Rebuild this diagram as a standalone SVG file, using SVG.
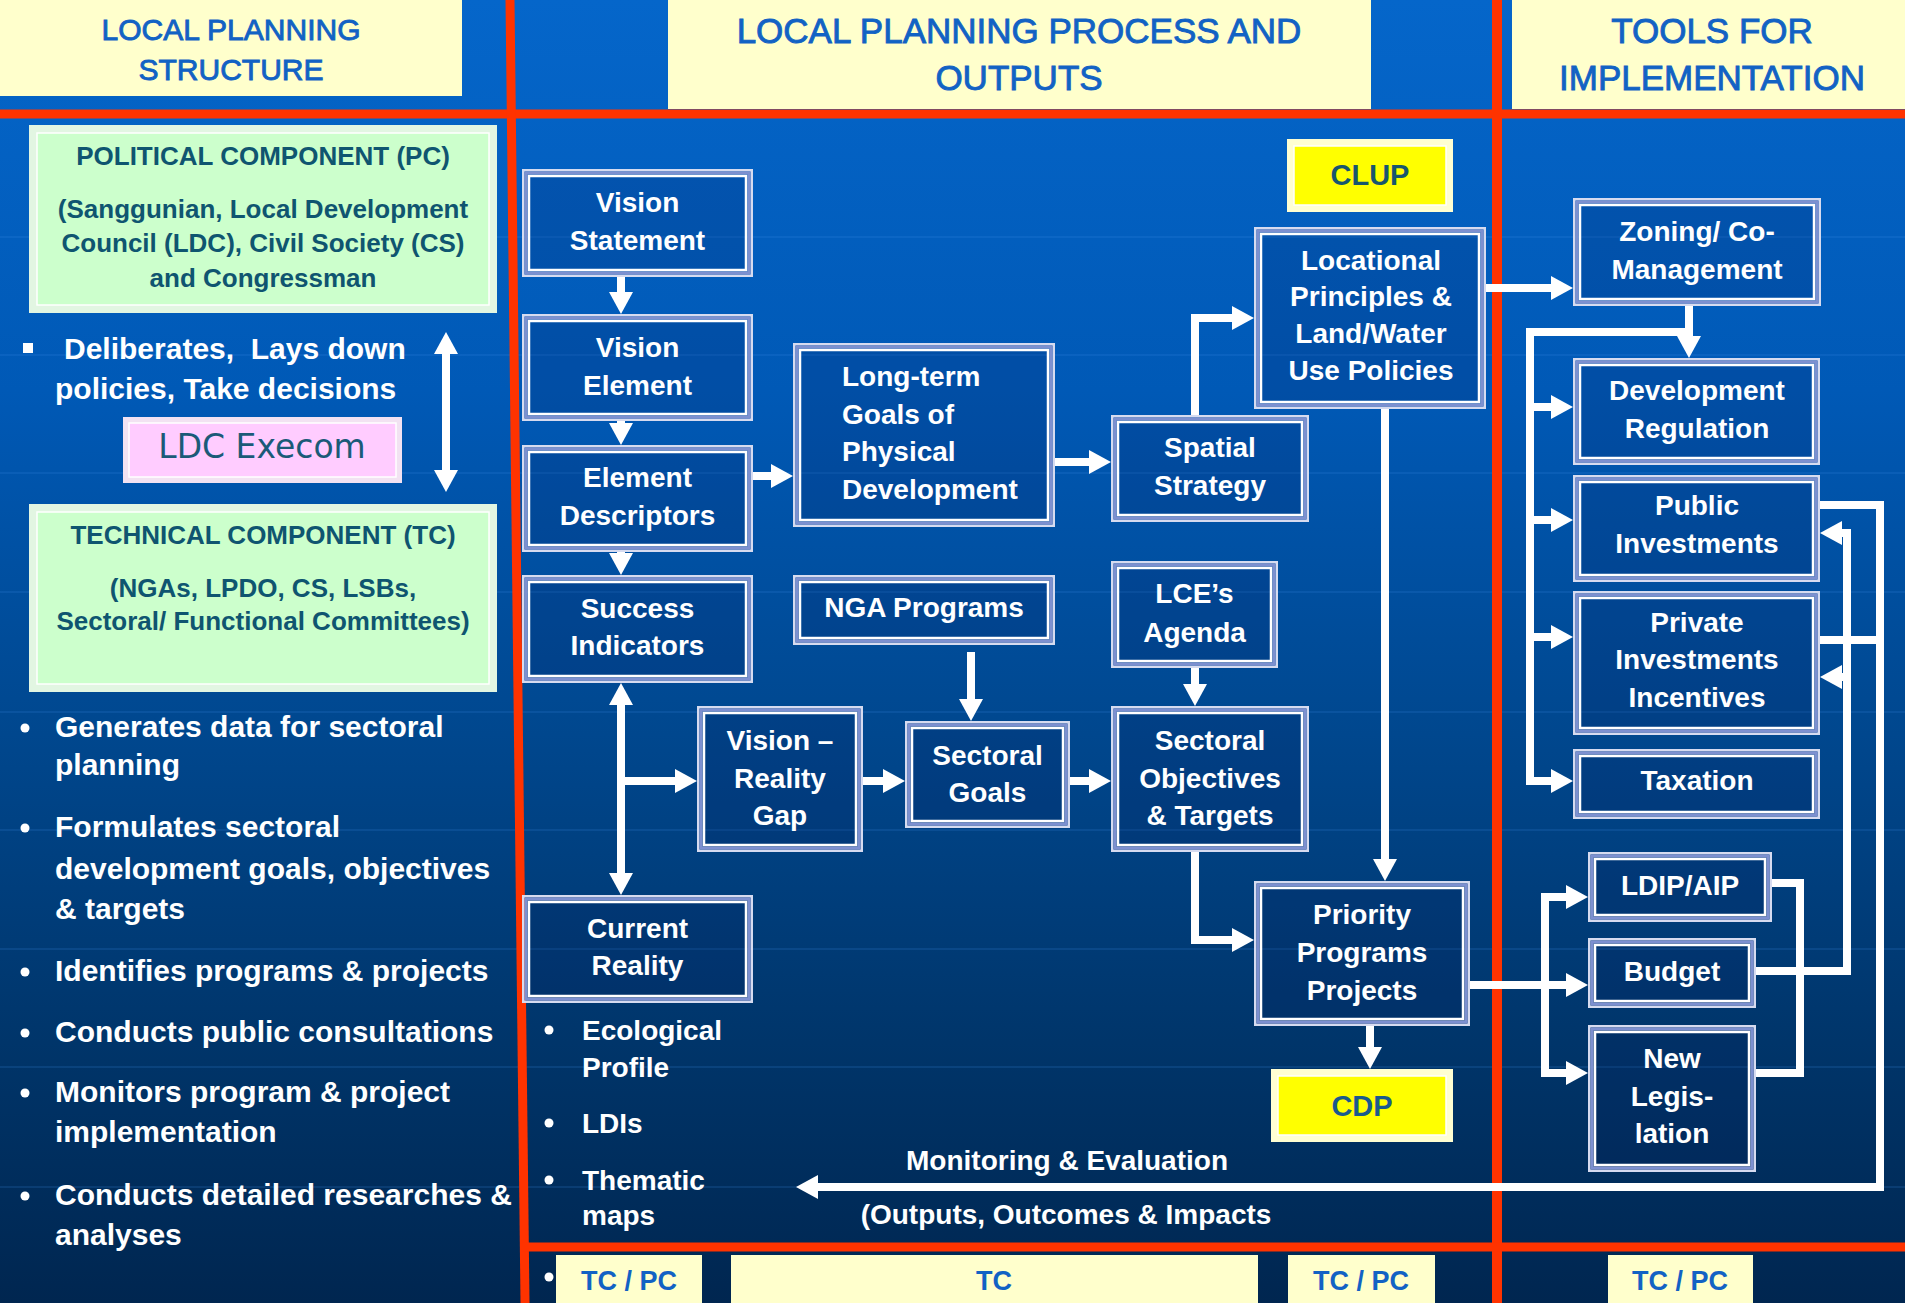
<svg xmlns="http://www.w3.org/2000/svg" width="1905" height="1303" viewBox="0 0 1905 1303">
  <defs>
    <linearGradient id="bg" x1="0" y1="0" x2="0" y2="1">
      <stop offset="0" stop-color="#0566CA"/>
      <stop offset="0.3" stop-color="#0059B6"/>
      <stop offset="0.55" stop-color="#004890"/>
      <stop offset="0.8" stop-color="#00356A"/>
      <stop offset="1" stop-color="#002650"/>
    </linearGradient>
    <marker id="ah" viewBox="0 0 22 24" refX="2" refY="12" markerWidth="22" markerHeight="24" markerUnits="userSpaceOnUse" orient="auto-start-reverse">
      <path d="M0,0 L22,12 L0,24 Z" fill="#FFFFFF"/>
    </marker>
    <style>
      .o { fill: rgba(5,30,90,0.18); stroke: #D6DBF0; stroke-width: 2.5; }
      .m { fill: none; stroke: #7D90D0; stroke-width: 3; }
      .i { fill: none; stroke: #FFFFFF; stroke-width: 2.5; }
      .t { font-family: 'Liberation Sans', Arial, sans-serif; font-weight: bold; font-size: 28px; fill: #FFFFFF; text-anchor: middle; }
      .tl { font-family: 'Liberation Sans', Arial, sans-serif; font-weight: bold; font-size: 28px; fill: #FFFFFF; }
      .hd { font-family: 'Liberation Sans', Arial, sans-serif; font-size: 35px; fill: #1262C4; stroke: #1262C4; stroke-width: 0.9; text-anchor: middle; }
      .ft { font-family: 'Liberation Sans', Arial, sans-serif; font-weight: bold; font-size: 27px; fill: #1262C4; text-anchor: middle; }
      .gt { font-family: 'Liberation Sans', Arial, sans-serif; font-weight: bold; font-size: 26px; fill: #0F5570; text-anchor: middle; }
      .bl { font-family: 'Liberation Sans', Arial, sans-serif; font-weight: bold; font-size: 30px; fill: #FFFFFF; white-space: pre; }
      .yt { font-family: 'Liberation Sans', Arial, sans-serif; font-weight: bold; font-size: 29px; fill: #17566E; text-anchor: middle; }
      .pale { fill: #FFFFCC; }
      .red { stroke: #FF3300; fill: none; }
      .grid { stroke: #3F8FE8; stroke-width: 1.5; opacity: 0.22; }
      .cn { fill: none; stroke: #FFFFFF; stroke-width: 8; stroke-linejoin: miter; }
      .ar { marker-end: url(#ah); }
      .ar2 { marker-start: url(#ah); marker-end: url(#ah); }
      .green { fill: #CCFFCC; stroke: #E2F6E2; stroke-width: 8; }
      .gin { fill: none; stroke: #FFFFFF; stroke-width: 1.5; }
    </style>
  </defs>

  <!-- backdrop -->
  <rect x="0" y="0" width="1905" height="1303" fill="url(#bg)"/>
  <g id="grid">
    <line class="grid" x1="0" y1="237" x2="1905" y2="237"/>
    <line class="grid" x1="0" y1="355" x2="1905" y2="355"/>
    <line class="grid" x1="0" y1="473" x2="1905" y2="473"/>
    <line class="grid" x1="0" y1="592" x2="1905" y2="592"/>
    <line class="grid" x1="0" y1="712" x2="1905" y2="712"/>
    <line class="grid" x1="0" y1="830" x2="1905" y2="830"/>
    <line class="grid" x1="0" y1="949" x2="1905" y2="949"/>
    <line class="grid" x1="0" y1="1067" x2="1905" y2="1067"/>
    <line class="grid" x1="0" y1="1187" x2="1905" y2="1187"/>
  </g>

  <!-- column headers -->
  <g id="header-structure">
    <rect class="pale" x="0" y="0" width="462" height="96"/>
    <text class="hd" style="font-size:30px" x="231" y="40">LOCAL PLANNING</text>
    <text class="hd" style="font-size:30px" x="231" y="80">STRUCTURE</text>
  </g>
  <g id="header-process">
    <rect class="pale" x="668" y="0" width="703" height="109"/>
    <text class="hd" x="1019" y="43">LOCAL PLANNING PROCESS AND</text>
    <text class="hd" x="1019" y="90">OUTPUTS</text>
  </g>
  <g id="header-tools">
    <rect class="pale" x="1512" y="0" width="393" height="109"/>
    <text class="hd" x="1712" y="43">TOOLS FOR</text>
    <text class="hd" x="1712" y="90">IMPLEMENTATION</text>
  </g>

  <!-- footer role labels -->
  <g id="footer">
    <rect class="pale" x="556" y="1255" width="146" height="48"/>
    <text class="ft" x="629" y="1290">TC / PC</text>
    <rect class="pale" x="731" y="1255" width="527" height="48"/>
    <text class="ft" x="994" y="1290">TC</text>
    <rect class="pale" x="1288" y="1255" width="147" height="48"/>
    <text class="ft" x="1361" y="1290">TC / PC</text>
    <rect class="pale" x="1608" y="1255" width="145" height="48"/>
    <text class="ft" x="1680" y="1290">TC / PC</text>
  </g>

  <!-- red column dividers -->
  <g id="dividers">
    <line class="red" x1="0" y1="114" x2="1905" y2="114" stroke-width="9"/>
    <line class="red" x1="510" y1="0" x2="525" y2="1303" stroke-width="9"/>
    <line class="red" x1="1497" y1="0" x2="1497" y2="1303" stroke-width="10"/>
    <line class="red" x1="522" y1="1247" x2="1905" y2="1247" stroke-width="9"/>
  </g>

  <!-- planning structure column -->
  <g id="political-component">
    <rect class="green" x="33" y="129" width="460" height="180"/>
    <rect class="gin" x="37" y="133" width="452" height="172"/>
    <text class="gt" x="263" y="165">POLITICAL COMPONENT (PC)</text>
    <text class="gt" x="263" y="218">(Sanggunian, Local Development</text>
    <text class="gt" x="263" y="252">Council (LDC), Civil Society (CS)</text>
    <text class="gt" x="263" y="287">and Congressman</text>
  </g>
  <g id="pc-role">
    <rect x="23" y="343" width="10" height="10" fill="#FFFFFF"/>
    <text class="bl" x="64" y="359">Deliberates,  Lays down</text>
    <text class="bl" x="55" y="399">policies, Take decisions</text>
  </g>
  <g id="ldc-execom">
    <rect x="126" y="420" width="273" height="60" fill="#FFCCFF" stroke="#F2E2F2" stroke-width="6"/>
    <rect x="129" y="423" width="267" height="54" fill="none" stroke="#FFFFFF" stroke-width="1.5"/>
    <text x="262" y="458" text-anchor="middle" font-family="'DejaVu Sans', Verdana, sans-serif" font-size="33" fill="#1B5A78">LDC Execom</text>
  </g>
  <g id="technical-component">
    <rect class="green" x="33" y="508" width="460" height="180"/>
    <rect class="gin" x="37" y="512" width="452" height="172"/>
    <text class="gt" x="263" y="544">TECHNICAL COMPONENT (TC)</text>
    <text class="gt" x="263" y="597">(NGAs, LPDO, CS, LSBs,</text>
    <text class="gt" x="263" y="630">Sectoral/ Functional Committees)</text>
  </g>
  <g id="tc-roles">
    <circle cx="25" cy="728" r="4.5" fill="#FFFFFF"/>
    <text class="bl" x="55" y="737">Generates data for sectoral</text>
    <text class="bl" x="55" y="775">planning</text>
    <circle cx="25" cy="828" r="4.5" fill="#FFFFFF"/>
    <text class="bl" x="55" y="837">Formulates sectoral</text>
    <text class="bl" x="55" y="879">development goals, objectives</text>
    <text class="bl" x="55" y="919">&amp; targets</text>
    <circle cx="25" cy="972" r="4.5" fill="#FFFFFF"/>
    <text class="bl" x="55" y="981">Identifies programs &amp; projects</text>
    <circle cx="25" cy="1033" r="4.5" fill="#FFFFFF"/>
    <text class="bl" x="55" y="1042">Conducts public consultations</text>
    <circle cx="25" cy="1093" r="4.5" fill="#FFFFFF"/>
    <text class="bl" x="55" y="1102">Monitors program &amp; project</text>
    <text class="bl" x="55" y="1142">implementation</text>
    <circle cx="25" cy="1196" r="4.5" fill="#FFFFFF"/>
    <text class="bl" x="55" y="1205">Conducts detailed researches &amp;</text>
    <text class="bl" x="55" y="1245">analyses</text>
  </g>

  <!-- connectors -->
  <g id="connectors">
    <path class="cn ar2" d="M446,352 V472" stroke-width="5"/>
    <path class="cn ar" d="M621,277 V294"/>
    <path class="cn ar" d="M621,421 V425"/>
    <path class="cn ar" d="M621,552 V555"/>
    <path class="cn ar" d="M753,476 H773"/>
    <path class="cn ar" d="M1055,462 H1091"/>
    <path class="cn ar" d="M1195,415 V318 H1234"/>
    <path class="cn ar" d="M1385,409 V861" stroke-width="5"/>
    <path class="cn ar" d="M971,652 V701"/>
    <path class="cn ar" d="M1195,668 V686"/>
    <path class="cn ar2" d="M621,703 V875"/>
    <path class="cn ar" d="M621,781 H677"/>
    <path class="cn ar" d="M863,781 H885"/>
    <path class="cn ar" d="M1070,781 H1091"/>
    <path class="cn ar" d="M1195,851 V940 H1234"/>
    <path class="cn ar" d="M1370,1026 V1049"/>
    <path class="cn ar" d="M1486,288 H1553"/>
    <path class="cn ar" d="M1689,306 V338"/>
    <path class="cn ar" d="M1689,332 H1530 V781 H1553"/>
    <path class="cn ar" d="M1530,407 H1553"/>
    <path class="cn ar" d="M1530,520 H1553"/>
    <path class="cn ar" d="M1530,637 H1553"/>
    <path class="cn ar" d="M1470,985 H1568"/>
    <path class="cn ar2" d="M1568,897 H1545 V1073 H1568"/>
    <path class="cn" d="M1772,883 H1800 V1073 H1756"/>
    <path class="cn ar" d="M1756,971 H1847 V533 H1840"/>
    <path class="cn ar" d="M1847,677 H1840"/>
    <path class="cn ar" d="M1820,505 H1880 V1187 H816"/>
    <path class="cn" d="M1820,640 H1880"/>
  </g>

  <!-- planning process column -->
  <g id="vision-statement">
    <rect class="o" x="523.25" y="170.25" width="228.5" height="105.5"/>
    <rect class="m" x="526" y="173" width="223" height="100"/>
    <rect class="i" x="529" y="176" width="217" height="94"/>
    <text class="t" x="637.5" y="212">Vision</text>
    <text class="t" x="637.5" y="250">Statement</text>
  </g>
  <g id="vision-element">
    <rect class="o" x="523.25" y="315.25" width="228.5" height="104.5"/>
    <rect class="m" x="526" y="318" width="223" height="99"/>
    <rect class="i" x="529" y="321" width="217" height="93"/>
    <text class="t" x="637.5" y="357">Vision</text>
    <text class="t" x="637.5" y="395">Element</text>
  </g>
  <g id="element-descriptors">
    <rect class="o" x="523.25" y="446.25" width="228.5" height="104.5"/>
    <rect class="m" x="526" y="449" width="223" height="99"/>
    <rect class="i" x="529" y="452" width="217" height="93"/>
    <text class="t" x="637.5" y="487">Element</text>
    <text class="t" x="637.5" y="525">Descriptors</text>
  </g>
  <g id="success-indicators">
    <rect class="o" x="523.25" y="576.25" width="228.5" height="105.5"/>
    <rect class="m" x="526" y="579" width="223" height="100"/>
    <rect class="i" x="529" y="582" width="217" height="94"/>
    <text class="t" x="637.5" y="618">Success</text>
    <text class="t" x="637.5" y="655">Indicators</text>
  </g>
  <g id="current-reality">
    <rect class="o" x="523.25" y="896.25" width="228.5" height="105.5"/>
    <rect class="m" x="526" y="899" width="223" height="100"/>
    <rect class="i" x="529" y="902" width="217" height="94"/>
    <text class="t" x="637.5" y="938">Current</text>
    <text class="t" x="637.5" y="975">Reality</text>
  </g>
  <g id="current-reality-inputs">
    <circle cx="549" cy="1030" r="4.5" fill="#FFFFFF"/>
    <text class="tl" x="582" y="1040">Ecological</text>
    <text class="tl" x="582" y="1077">Profile</text>
    <circle cx="549" cy="1123" r="4.5" fill="#FFFFFF"/>
    <text class="tl" x="582" y="1133">LDIs</text>
    <circle cx="549" cy="1180" r="4.5" fill="#FFFFFF"/>
    <text class="tl" x="582" y="1190">Thematic</text>
    <text class="tl" x="582" y="1225">maps</text>
    <circle cx="549" cy="1277" r="4.5" fill="#FFFFFF"/>
  </g>
  <g id="long-term-goals">
    <rect class="o" x="794.25" y="344.25" width="259.5" height="181.5"/>
    <rect class="m" x="797" y="347" width="254" height="176"/>
    <rect class="i" x="800" y="350" width="248" height="170"/>
    <text class="tl" x="842" y="386">Long-term</text>
    <text class="tl" x="842" y="424">Goals of</text>
    <text class="tl" x="842" y="461">Physical</text>
    <text class="tl" x="842" y="499">Development</text>
  </g>
  <g id="spatial-strategy">
    <rect class="o" x="1112.25" y="416.25" width="195.5" height="104.5"/>
    <rect class="m" x="1115" y="419" width="190" height="99"/>
    <rect class="i" x="1118" y="422" width="184" height="93"/>
    <text class="t" x="1210" y="457">Spatial</text>
    <text class="t" x="1210" y="495">Strategy</text>
  </g>
  <g id="clup">
    <rect x="1287" y="139" width="166" height="73" fill="#FFFFD2"/>
    <rect x="1294" y="146" width="152" height="59" fill="#FFFF00" stroke="#FFFFFF" stroke-width="1.5"/>
    <text class="yt" x="1370" y="185">CLUP</text>
  </g>
  <g id="locational-principles">
    <rect class="o" x="1255.25" y="228.25" width="229.5" height="179.5"/>
    <rect class="m" x="1258" y="231" width="224" height="174"/>
    <rect class="i" x="1261" y="234" width="218" height="168"/>
    <text class="t" x="1371" y="270">Locational</text>
    <text class="t" x="1371" y="306">Principles &amp;</text>
    <text class="t" x="1371" y="343">Land/Water</text>
    <text class="t" x="1371" y="380">Use Policies</text>
  </g>
  <g id="nga-programs">
    <rect class="o" x="794.25" y="576.25" width="259.5" height="67.5"/>
    <rect class="m" x="797" y="579" width="254" height="62"/>
    <rect class="i" x="800" y="582" width="248" height="56"/>
    <text class="t" x="924" y="617">NGA Programs</text>
  </g>
  <g id="lce-agenda">
    <rect class="o" x="1112.25" y="562.25" width="164.5" height="104.5"/>
    <rect class="m" x="1115" y="565" width="159" height="99"/>
    <rect class="i" x="1118" y="568" width="153" height="93"/>
    <text class="t" x="1194.5" y="603">LCE’s</text>
    <text class="t" x="1194.5" y="642">Agenda</text>
  </g>
  <g id="vision-reality-gap">
    <rect class="o" x="698.25" y="707.25" width="163.5" height="143.5"/>
    <rect class="m" x="701" y="710" width="158" height="138"/>
    <rect class="i" x="704" y="713" width="152" height="132"/>
    <text class="t" x="780" y="750">Vision –</text>
    <text class="t" x="780" y="788">Reality</text>
    <text class="t" x="780" y="825">Gap</text>
  </g>
  <g id="sectoral-goals">
    <rect class="o" x="906.25" y="722.25" width="162.5" height="104.5"/>
    <rect class="m" x="909" y="725" width="157" height="99"/>
    <rect class="i" x="912" y="728" width="151" height="93"/>
    <text class="t" x="987.5" y="765">Sectoral</text>
    <text class="t" x="987.5" y="802">Goals</text>
  </g>
  <g id="sectoral-objectives">
    <rect class="o" x="1112.25" y="707.25" width="195.5" height="143.5"/>
    <rect class="m" x="1115" y="710" width="190" height="138"/>
    <rect class="i" x="1118" y="713" width="184" height="132"/>
    <text class="t" x="1210" y="750">Sectoral</text>
    <text class="t" x="1210" y="788">Objectives</text>
    <text class="t" x="1210" y="825">&amp; Targets</text>
  </g>
  <g id="priority-ppas">
    <rect class="o" x="1255.25" y="882.25" width="213.5" height="142.5"/>
    <rect class="m" x="1258" y="885" width="208" height="137"/>
    <rect class="i" x="1261" y="888" width="202" height="131"/>
    <text class="t" x="1362" y="924">Priority</text>
    <text class="t" x="1362" y="962">Programs</text>
    <text class="t" x="1362" y="1000">Projects</text>
  </g>
  <g id="cdp">
    <rect x="1271" y="1069" width="182" height="73" fill="#FFFFD2"/>
    <rect x="1278" y="1076" width="168" height="59" fill="#FFFF00" stroke="#FFFFFF" stroke-width="1.5"/>
    <text class="yt" x="1362" y="1116" style="fill:#1A5A8C">CDP</text>
  </g>
  <g id="monitoring-evaluation">
    <text class="t" x="1067" y="1170">Monitoring &amp; Evaluation</text>
    <text class="t" x="1066" y="1224">(Outputs, Outcomes &amp; Impacts</text>
  </g>

  <!-- implementation tools column -->
  <g id="zoning">
    <rect class="o" x="1574.25" y="199.25" width="245.5" height="105.5"/>
    <rect class="m" x="1577" y="202" width="240" height="100"/>
    <rect class="i" x="1580" y="205" width="234" height="94"/>
    <text class="t" x="1697" y="241">Zoning/ Co-</text>
    <text class="t" x="1697" y="279">Management</text>
  </g>
  <g id="development-regulation">
    <rect class="o" x="1574.25" y="359.25" width="244.5" height="104.5"/>
    <rect class="m" x="1577" y="362" width="239" height="99"/>
    <rect class="i" x="1580" y="365" width="233" height="93"/>
    <text class="t" x="1697" y="400">Development</text>
    <text class="t" x="1697" y="438">Regulation</text>
  </g>
  <g id="public-investments">
    <rect class="o" x="1574.25" y="476.25" width="244.5" height="104.5"/>
    <rect class="m" x="1577" y="479" width="239" height="99"/>
    <rect class="i" x="1580" y="482" width="233" height="93"/>
    <text class="t" x="1697" y="515">Public</text>
    <text class="t" x="1697" y="553">Investments</text>
  </g>
  <g id="private-investments">
    <rect class="o" x="1574.25" y="592.25" width="244.5" height="141.5"/>
    <rect class="m" x="1577" y="595" width="239" height="136"/>
    <rect class="i" x="1580" y="598" width="233" height="130"/>
    <text class="t" x="1697" y="632">Private</text>
    <text class="t" x="1697" y="669">Investments</text>
    <text class="t" x="1697" y="707">Incentives</text>
  </g>
  <g id="taxation">
    <rect class="o" x="1574.25" y="750.25" width="244.5" height="67.5"/>
    <rect class="m" x="1577" y="753" width="239" height="62"/>
    <rect class="i" x="1580" y="756" width="233" height="56"/>
    <text class="t" x="1697" y="790">Taxation</text>
  </g>
  <g id="ldip-aip">
    <rect class="o" x="1589.25" y="853.25" width="181.5" height="67.5"/>
    <rect class="m" x="1592" y="856" width="176" height="62"/>
    <rect class="i" x="1595" y="859" width="170" height="56"/>
    <text class="t" x="1680" y="895">LDIP/AIP</text>
  </g>
  <g id="budget">
    <rect class="o" x="1589.25" y="939.25" width="165.5" height="67.5"/>
    <rect class="m" x="1592" y="942" width="160" height="62"/>
    <rect class="i" x="1595" y="945" width="154" height="56"/>
    <text class="t" x="1672" y="981">Budget</text>
  </g>
  <g id="new-legislation">
    <rect class="o" x="1589.25" y="1026.25" width="165.5" height="144.5"/>
    <rect class="m" x="1592" y="1029" width="160" height="139"/>
    <rect class="i" x="1595" y="1032" width="154" height="133"/>
    <text class="t" x="1672" y="1068">New</text>
    <text class="t" x="1672" y="1106">Legis-</text>
    <text class="t" x="1672" y="1143">lation</text>
  </g>
</svg>
